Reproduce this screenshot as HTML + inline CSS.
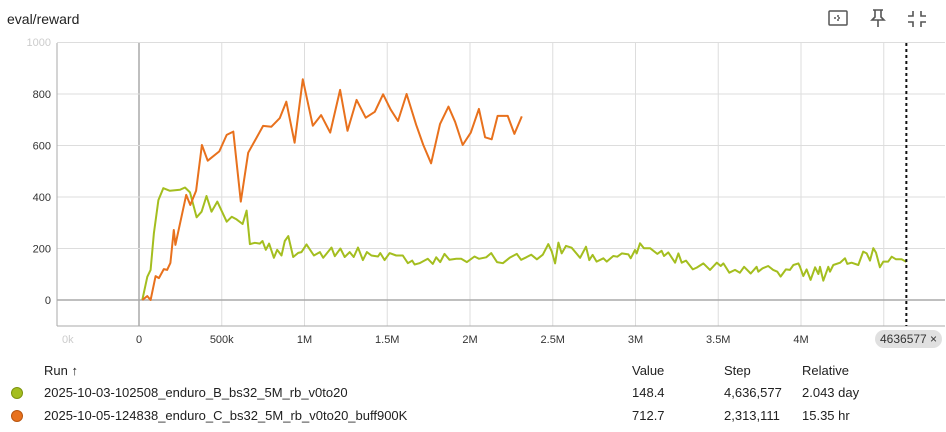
<!DOCTYPE html>
<html><head><meta charset="utf-8"><style>
body{margin:0;background:#fff;font-family:"Liberation Sans",sans-serif;width:946px;height:432px;overflow:hidden;position:relative;color:#212121}
.t{position:absolute;font-size:13px;white-space:nowrap}
.dot{position:absolute;width:10px;height:10px;border-radius:50%;}
</style></head><body>
<div class="t" style="left:7px;top:11px;font-size:14px">eval/reward</div>
<svg style="position:absolute;left:820px;top:6px" width="120" height="26">
<g fill="none" stroke="#555" stroke-width="1.5"><rect x="9" y="5" width="18" height="14" rx="1"/><path d="M14 12h8M18 9v6" stroke-dasharray="2 2"/></g>
<g fill="none" stroke="#555" stroke-width="1.6"><path d="M53 4h10M55 4v7l-3 3h12l-3-3V4M58 14v7"/></g>
<g fill="none" stroke="#555" stroke-width="1.6"><path d="M93 5v5h-5M101 5v5h5M93 21v-5h-5M101 21v-5h5"/></g>
</svg>
<svg id="chart" style="position:absolute;left:0;top:0" width="946" height="360"></svg>
<div class="t" style="left:875px;top:330px;background:#e0e0e0;border-radius:9px;padding:2px 5px;font-size:12px;color:#333">4636577 ×</div>

<div class="t" style="left:44px;top:363px">Run ↑</div>
<div class="t" style="left:632px;top:363px">Value</div>
<div class="t" style="left:724px;top:363px">Step</div>
<div class="t" style="left:802px;top:363px">Relative</div>

<div class="dot" style="left:11px;top:387px;background:#a4be1f;border:1px solid #7d9410"></div>
<div class="t" style="left:44px;top:385px">2025-10-03-102508_enduro_B_bs32_5M_rb_v0to20</div>
<div class="t" style="left:632px;top:385px">148.4</div>
<div class="t" style="left:724px;top:385px">4,636,577</div>
<div class="t" style="left:802px;top:385px">2.043 day</div>

<div class="dot" style="left:11px;top:410px;background:#e8711d;border:1px solid #b85510"></div>
<div class="t" style="left:44px;top:408px">2025-10-05-124838_enduro_C_bs32_5M_rb_v0to20_buff900K</div>
<div class="t" style="left:632px;top:408px">712.7</div>
<div class="t" style="left:724px;top:408px">2,313,111</div>
<div class="t" style="left:802px;top:408px">15.35 hr</div>

<script>
const xTicks=[0,500,1000,1500,2000,2500,3000,3500,4000];
const xTickLabels=["0","500k","1M","1.5M","2M","2.5M","3M","3.5M","4M"];
const yTicks=[0,200,400,600,800];
const stepsC=[20,50,70,100,120,150,170,190,210,220,285,310,345,380,415,485,530,570,615,660,750,800,850,890,940,990,1050,1100,1155,1215,1260,1315,1370,1425,1475,1520,1565,1617,1675,1718,1765,1819,1870,1910,1956,2005,2054,2091,2131,2167,2228,2268,2313];
const valsC=[0,15,0,93,85,120,117,144,272,214,408,369,424,602,541,577,641,654,382,572,676,673,706,770,611,857,677,718,650,816,657,777,708,731,799,740,695,800,680,602,531,683,751,692,602,650,742,632,624,715,715,645,713];
const stepsB=[20,50,70,90,117,147,187,247,278,308,348,378,408,438,473,530,560,590,626,650,670,700,730,746,766,786,815,835,861,881,902,932,962,982,1012,1057,1093,1113,1137,1163,1183,1217,1243,1273,1297,1323,1353,1377,1404,1444,1458,1484,1514,1554,1594,1625,1651,1665,1695,1745,1775,1796,1820,1846,1876,1917,1947,1981,2027,2054,2098,2128,2163,2199,2239,2283,2309,2340,2370,2404,2440,2473,2494,2514,2534,2554,2580,2614,2665,2701,2721,2741,2765,2806,2826,2866,2890,2917,2957,2971,2997,3007,3027,3051,3088,3132,3158,3172,3198,3239,3259,3279,3305,3346,3370,3410,3450,3491,3515,3531,3567,3601,3631,3656,3696,3732,3742,3768,3802,3832,3857,3877,3909,3933,3954,3984,3994,4014,4034,4058,4085,4105,4115,4135,4165,4175,4195,4236,4266,4280,4306,4346,4376,4397,4417,4437,4453,4477,4497,4527,4548,4574,4608,4637];
const valsB=[0,90,117,260,388,434,424,428,437,418,321,343,404,343,382,304,323,313,295,347,217,222,219,229,195,219,164,195,173,229,248,167,183,186,216,173,186,164,183,204,170,200,167,186,167,204,155,186,173,169,182,155,182,173,173,143,153,138,143,160,140,166,147,179,156,160,160,147,169,160,166,182,147,143,164,179,156,166,176,158,176,217,188,142,223,181,210,203,164,207,155,175,149,162,149,171,168,181,177,162,194,181,220,201,201,179,191,171,185,145,181,145,153,119,126,142,117,145,132,142,106,117,106,129,103,129,110,123,132,117,110,91,119,117,136,142,129,93,119,78,127,101,129,75,129,110,136,145,162,140,145,136,188,181,153,201,184,127,149,149,168,158,158,148];
const hoverStep=4636.577;
const NS="http://www.w3.org/2000/svg";
const svg=document.getElementById('chart');
const L=57,R=945,T=43,B=326;
const x=s=>139+s*0.1655;
const y=v=>300-v*0.2575;
function mk(t,a){const e=document.createElementNS(NS,t);for(const k in a)e.setAttribute(k,a[k]);svg.appendChild(e);return e;}
// grid
for(let s=-500;s<=4500;s+=500){const px=x(s);if(px<L||px>R)continue;
const g=mk('line',{x1:px,x2:px,y1:T,y2:B,stroke:s===0?'#aaa':'#ddd','stroke-width':s===0?1.5:1});

}
for(let v=0;v<=1000;v+=200){const py=y(v);
const g=mk('line',{x1:L,x2:R,y1:py,y2:py,stroke:v===0?'#aaa':'#ddd','stroke-width':v===0?1.5:1});

}
const bx=mk('line',{x1:L,x2:R,y1:B,y2:B,stroke:'#aaa'});


const by=mk('line',{x1:L,x2:L,y1:T,y2:B,stroke:'#aaa'});


xTicks.forEach((s,i)=>{const t=mk('text',{x:x(s),y:343,'text-anchor':'middle','font-size':11,fill:'#333','font-family':'Liberation Sans'});t.textContent=xTickLabels[i];

});
const t4=mk('text',{x:x(4500)-2,y:343,'text-anchor':'middle','font-size':11,fill:'#333','font-family':'Liberation Sans'});t4.textContent='4';


const tk=mk('text',{x:62,y:343,'text-anchor':'start','font-size':11,fill:'#ccc','font-family':'Liberation Sans'});tk.textContent='0k';


yTicks.forEach(v=>{const t=mk('text',{x:51,y:y(v)+4,'text-anchor':'end','font-size':11,fill:'#333','font-family':'Liberation Sans'});t.textContent=v;

});
const ty=mk('text',{x:51,y:46,'text-anchor':'end','font-size':11,fill:'#ccc','font-family':'Liberation Sans'});ty.textContent='1000';


function line(st,vs,c,name){const d=st.map((s,i)=>(i?'L':'M')+x(s).toFixed(1)+' '+y(vs[i]).toFixed(1)).join(' ');
const p=mk('path',{d:d,fill:'none',stroke:c,'stroke-width':2,'stroke-linejoin':'round'});

}
line(stepsB,valsB,'#a4be1f','series-run-b');
line(stepsC,valsC,'#e8711d','series-run-c');
const h=mk('line',{x1:x(hoverStep),x2:x(hoverStep),y1:T,y2:B,stroke:'#111','stroke-width':2,'stroke-dasharray':'3 3'});


</script>
</body></html>
